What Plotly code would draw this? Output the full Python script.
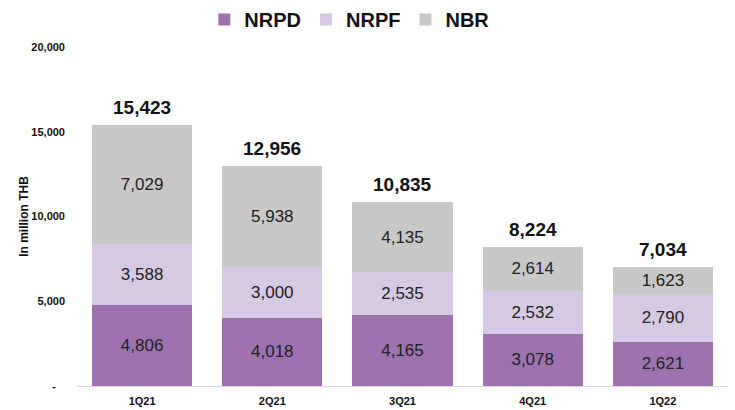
import plotly.graph_objects as go

quarters = ["1Q21", "2Q21", "3Q21", "4Q21", "1Q22"]
nrpd = [4806, 4018, 4165, 3078, 2621]
nrpf = [3588, 3000, 2535, 2532, 2790]
nbr = [7029, 5938, 4135, 2614, 1623]
totals = [15423, 12956, 10835, 8224, 7034]
y_ticks = [0, 5000, 10000, 15000, 20000]
y_ticktext = ["-\u00a0\u00a0\u00a0", "5,000", "10,000", "15,000", "20,000"]

colors = {"NRPD": "#9D72AF", "NRPF": "#D6C9E3", "NBR": "#C8C8C8"}
font_family = "Liberation Sans, Arial, sans-serif"

fig = go.Figure()
for name, vals in [("NRPD", nrpd), ("NRPF", nrpf), ("NBR", nbr)]:
    fig.add_trace(go.Bar(
        x=quarters, y=vals, name=name,
        marker=dict(color=colors[name], line=dict(width=0)),
        text=[f"{v:,}" for v in vals], textposition="inside",
        insidetextanchor="middle",
        textfont=dict(size=17, color="#222222", family=font_family),
    ))

for q, t in zip(quarters, totals):
    fig.add_annotation(x=q, y=t, text=f"<b>{t:,}</b>", showarrow=False,
                       yanchor="bottom", yshift=5,
                       font=dict(size=19, color="#111111", family=font_family))

fig.update_layout(
    barmode="stack", bargap=0.23,
    width=735, height=410,
    margin=dict(l=77, r=7, t=47, b=24, autoexpand=False),
    plot_bgcolor="white", paper_bgcolor="white",
    font=dict(family=font_family, color="#111111"),
    legend=dict(orientation="h", xref="container", x=0.476, xanchor="center",
                yref="container", y=1.0, yanchor="top",
                font=dict(size=20, family=font_family, weight="bold"),
                itemwidth=30, traceorder="normal"),
    showlegend=True,
    uniformtext=dict(mode="show", minsize=17),
)
fig.update_xaxes(showline=True, linecolor="#D9D9D9", linewidth=1, ticks="",
                 ticklabelstandoff=5,
                 tickfont=dict(size=11, family=font_family, weight="bold"))
fig.update_yaxes(range=[0, 20000], tickvals=y_ticks, ticktext=y_ticktext,
                 showgrid=False, zeroline=False, showline=False,
                 tickfont=dict(size=11, family=font_family, weight="bold"),
                 title=dict(text="<b>In million THB</b>", font=dict(size=12), standoff=0),
                 ticklabelstandoff=11)

fig.write_html("out.html", config={"displayModeBar": False},
               post_script="document.body.style.margin='0';")
